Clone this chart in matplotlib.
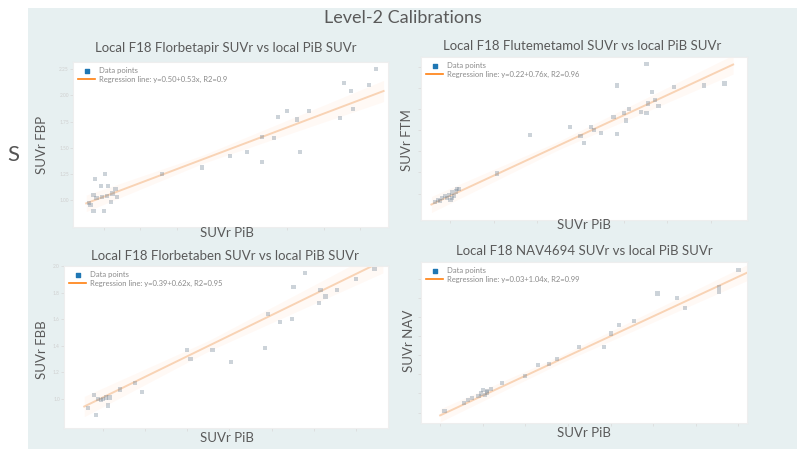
import matplotlib
matplotlib.use("Agg")
import matplotlib.pyplot as plt
from matplotlib.patches import Rectangle
import numpy as np

W, H = 797, 449

# ---- data (x = SUVr PiB, y = tracer SUVr) ----
fbp_x = [2.86, 2.64, 2.81, 2.69, 2.70, 2.61, 2.40, 2.25, 2.19, 2.32, 2.08, 2.16, 2.34, 1.98,
         2.08, 1.86, 1.67, 1.40, 0.94, 1.01, 0.98, 1.03, 1.08, 1.06, 1.02, 0.99, 0.93, 0.90,
         0.91, 0.93, 1.00, 1.05, 1.09, 0.95]
fbp_y = [2.25, 2.12, 2.10, 2.04, 1.87, 1.78, 1.85, 1.85, 1.79, 1.77, 1.60, 1.59, 1.46, 1.46,
         1.36, 1.42, 1.31, 1.25, 1.20, 1.25, 1.13, 1.13, 1.10, 1.06, 1.04, 1.03, 1.05, 0.97,
         0.95, 0.89, 0.89, 0.98, 1.03, 1.02]

ftm_x = [2.13, 1.96, 2.58, 2.46, 2.29, 2.16, 2.18, 2.14, 2.20, 2.10, 2.13, 2.03, 2.00, 1.94,
         2.01, 1.69, 1.81, 1.83, 1.87, 1.96, 1.75, 1.77, 1.46, 1.27, 0.91, 0.93, 0.95, 0.97,
         0.99, 1.01, 1.03, 1.05, 0.94, 0.98, 1.01, 1.04, 1.02, 1.00]
ftm_y = [2.22, 2.02, 2.04, 2.02, 2.01, 1.96, 1.88, 1.85, 1.83, 1.77, 1.76, 1.80, 1.76, 1.72,
         1.69, 1.63, 1.63, 1.60, 1.57, 1.56, 1.54, 1.48, 1.55, 1.19, 0.92, 0.94, 0.96, 0.98,
         0.99, 1.01, 1.02, 1.04, 0.93, 0.96, 0.96, 1.04, 0.98, 0.94]

fbb_x = [2.61, 2.20, 2.50, 2.13, 2.39, 2.29, 2.32, 2.28, 1.98, 2.05, 2.12, 1.96, 1.65, 1.50,
         1.52, 1.76, 1.19, 1.23, 1.10, 1.04, 1.00, 0.95, 0.97, 0.99, 1.02, 0.91, 0.96, 1.03]
fbb_y = [1.98, 1.95, 1.90, 1.84, 1.82, 1.82, 1.77, 1.72, 1.64, 1.58, 1.60, 1.38, 1.37, 1.37,
         1.30, 1.28, 1.12, 1.05, 1.07, 1.01, 1.00, 1.03, 1.00, 0.99, 1.01, 0.93, 0.88, 0.95]

nav_x = [2.40, 2.31, 2.31, 2.02, 2.11, 2.15, 1.84, 1.91, 1.80, 1.77, 1.65, 1.55, 1.51, 1.46,
         1.40, 1.29, 1.24, 1.22, 1.19, 1.21, 1.18, 1.15, 1.13, 1.11, 1.22, 1.20, 1.02]
nav_y = [2.60, 2.42, 2.37, 2.35, 2.30, 2.20, 2.02, 2.06, 1.93, 1.79, 1.79, 1.66, 1.61, 1.60,
         1.48, 1.41, 1.35, 1.33, 1.30, 1.28, 1.27, 1.25, 1.23, 1.20, 1.31, 1.34, 1.12]

fits = {"fbp": (0.50, 0.53, "0.9"), "ftm": (0.22, 0.76, "0.96"),
        "fbb": (0.39, 0.62, "0.95"), "nav": (0.03, 1.04, "0.99")}

titles = ["Local F18 Florbetapir SUVr vs local PiB SUVr",
          "Local F18 Flutemetamol SUVr vs local PiB SUVr",
          "Local F18 Florbetaben SUVr vs local PiB SUVr",
          "Local F18 NAV4694 SUVr vs local PiB SUVr"]
ylabels = ["SUVr FBP", "SUVr FTM", "SUVr FBB", "SUVr NAV"]

TXT = "#5a5a5a"
plt.rcParams['font.family'] = ['Lato', 'DejaVu Sans']


def fx(x):
    return x / W


def fy(y):
    return 1 - y / H


fig = plt.figure(figsize=(W / 100, H / 100), dpi=100)
fig.patch.set_facecolor("white")
fig.patches.append(Rectangle((fx(28), 0), 1 - fx(28), fy(8), transform=fig.transFigure,
                             facecolor="#e7f0f1", edgecolor="none", zorder=-5))

fig.text(fx(403), fy(18), "Level-2 Calibrations", ha="center", va="center",
         fontsize=13, color=TXT)
fig.text(fx(7), fy(155), "S", ha="left", va="center", fontsize=16, color="#555555")


def panel(rect, xs, ys, key, xlim, ylim, xt, yt, ylabels_on=True):
    a, b, r2 = fits[key]
    ax = fig.add_axes([fx(rect[0]), fy(rect[3]), fx(rect[2] - rect[0]), (rect[3] - rect[1]) / H])
    ax.set_facecolor("white")
    xs = np.array(xs)
    ys = np.array(ys)
    ax.scatter(xs, ys, s=9, color="#6e8294", alpha=0.35, edgecolors="none", marker="s",
               zorder=3)
    lx = np.linspace(xs.min() - 0.02, xs.max() + 0.05, 50)
    ly = a + b * lx
    band = 0.04 + 0.05 * np.abs(lx - xs.mean())
    ax.fill_between(lx, ly - band, ly + band, color="#ff7f0e", alpha=0.04, lw=0, zorder=1)
    ax.plot(lx, ly, color="#f8cfae", lw=1.4, alpha=0.9, zorder=2)
    # legend proxies
    ax.scatter([], [], s=9, marker="s", color="#1f77b4", label="Data points")
    ax.plot([], [], color="#ff7f0e", lw=1.2,
            label="Regression line: y=%.2f+%.2fx, R2=%s" % (a, b, r2))
    leg = ax.legend(loc="upper left", fontsize=5.5, frameon=False, handlelength=2.2,
                    borderaxespad=0.3, labelspacing=0.2, handletextpad=0.5)
    for t in leg.get_texts():
        t.set_color("#8a8a8a")
    ax.set_xlim(xlim)
    ax.set_ylim(ylim)
    ax.set_xticks(xt)
    ax.set_yticks(yt)
    ax.set_xticklabels([])
    if not ylabels_on:
        ax.set_yticklabels([])
    ax.tick_params(colors="#dcdcdc", labelcolor="#d0d0d0", labelsize=3.5, length=2, width=0.6,
                   pad=1)
    for s in ax.spines.values():
        s.set_color("#eeeeee")
        s.set_linewidth(0.8)
    return ax


panel((73, 62, 388, 227), fbp_x, fbp_y, "fbp", (0.79, 2.94), (0.74, 2.32),
      np.arange(1.0, 2.8, 0.25), np.arange(1.0, 2.3, 0.25))
panel((421, 57, 747, 220), ftm_x, ftm_y, "ftm", (0.83, 2.71), (0.75, 2.29),
      np.arange(1.0, 2.6, 0.25), np.arange(1.0, 2.3, 0.2), ylabels_on=False)
panel((64, 266, 388, 428), fbb_x, fbb_y, "fbb", (0.77, 2.69), (0.78, 2.0),
      np.arange(1.0, 2.6, 0.25), np.arange(1.0, 2.1, 0.2))
panel((421, 262, 747, 423), nav_x, nav_y, "nav", (0.91, 2.44), (0.99, 2.68),
      np.arange(1.0, 2.5, 0.2), np.arange(1.1, 2.6, 0.2), ylabels_on=False)

# subplot titles and axis labels
for (x, y), t in zip([(226, 48), (582, 46), (225, 256), (584, 251)], titles):
    fig.text(fx(x), fy(y), t, ha="center", va="center", fontsize=9.5, color=TXT)
for (x, y), t in zip([(42, 145), (407, 140), (42, 350), (409, 341)], ylabels):
    fig.text(fx(x), fy(y), t, ha="center", va="center", rotation=90, fontsize=9.5, color=TXT)
for x, y in [(227, 233), (584, 225), (227, 438), (584, 433)]:
    fig.text(fx(x), fy(y), "SUVr PiB", ha="center", va="center", fontsize=9.5, color=TXT)

fig.savefig("out.png", dpi=100, facecolor=fig.get_facecolor())
